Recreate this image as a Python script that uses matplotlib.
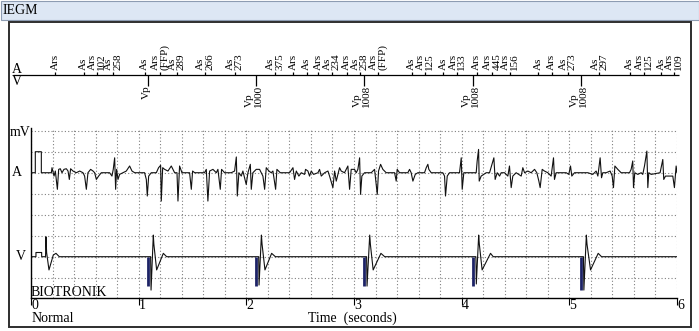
import matplotlib.pyplot as plt
from matplotlib.patches import Rectangle
import numpy as np

plt.rcParams['font.family'] = ['Liberation Serif', 'DejaVu Serif']

# atrial EGM, time in ms, amplitude in mV (1 grid division = 1 mV)
a_time_ms = [0, 40, 40, 96, 96, 189, 195, 214, 226, 245, 257, 272, 288, 306, 328, 344, 356, 368, 390, 421,
             452, 483, 498, 514, 529, 554, 576, 591, 607, 628, 653, 730, 752, 764, 777, 786, 795, 808, 823, 854,
             885, 916, 938, 963, 1055, 1071, 1080, 1093, 1117, 1164, 1185, 1204, 1210, 1223, 1241, 1272, 1303,
             1334, 1356, 1365, 1380, 1402, 1473, 1489, 1501, 1520, 1612, 1628, 1643, 1659, 1690, 1721, 1736,
             1758, 1770, 1798, 1860, 1891, 1907, 1916, 1931, 1953, 1968, 1999, 2015, 2037, 2046, 2061, 2092,
             2123, 2154, 2170, 2185, 2210, 2231, 2247, 2272, 2284, 2315, 2402, 2433, 2448, 2464, 2488, 2510,
             2541, 2550, 2572, 2587, 2603, 2625, 2665, 2680, 2696, 2727, 2758, 2773, 2804, 2820, 2835, 2866,
             2881, 2912, 2943, 2959, 2974, 3005, 3021, 3036, 3052, 3061, 3073, 3098, 3160, 3191, 3216, 3228,
             3247, 3268, 3299, 3377, 3392, 3401, 3423, 3500, 3516, 3531, 3547, 3569, 3593, 3655, 3671, 3686,
             3695, 3717, 3825, 3841, 3850, 3866, 3887, 3980, 3996, 4005, 4020, 4135, 4144, 4157, 4163, 4181,
             4228, 4259, 4299, 4311, 4330, 4352, 4367, 4398, 4429, 4444, 4460, 4475, 4506, 4553, 4568, 4584,
             4615, 4645, 4677, 4698, 4717, 4729, 4748, 4769, 4800, 4831, 4853, 4862, 4878, 4971, 4995, 5011,
             5023, 5048, 5172, 5218, 5249, 5265, 5286, 5299, 5311, 5342, 5379, 5398, 5410, 5423, 5450, 5481,
             5559, 5574, 5589, 5596, 5608, 5636, 5667, 5682, 5698, 5720, 5729, 5738, 5760, 5843, 5868, 5877,
             5893, 5961, 5976, 5992, 6000]
a_mv = [0, 0, 1.0, 1.0, 0, 0, 0.24, -0.16, 0.08, -0.79, 0.16, 0.19, 0, 0.16, 0.19, 0.08, -0.32, 0.19, 0.08, 0,
        0.08, 0, -0.16, -0.79, 0, 0.16, 0.08, 0, -0.32, -0.16, 0, 0, -0.16, 0.16, 0.71, -0.79, 0.16, -0.32, -0.08, 0,
        0.08, 0.32, 0.08, 0, 0, -0.32, -1.11, -0.16, 0, 0, 0.24, 0.35, -1.35, 0.24, 0.16, 0.08, 0.32,
        0, 0, -1.35, 0.32, 0, 0, -0.79, 0.08, 0, 0, 0.16, -1.35, 0.08, 0.16, 0, 0.16,
        -0.79, 0.16, 0, 0, 0.08, 0.75, -1.11, 0, -0.16, 0.08, -0.56, 0, 0.40, -0.79, 0, 0.16,
        0.16, -0.16, -0.79, 0.24, 0.08, 0, 0.08, -0.79, 0.16, 0, 0, 0.24, -0.32, 0.08, -0.16, 0,
        -0.08, 0.16, 0.08, -0.16, 0.08, -0.08, 0, 0.16, -0.16, 0, 0.08, -0.16, -0.71, 0.08, -0.40, 0.24,
        0.08, 0, 0.32, -0.79, 0.16, 0.16, 0, 0.16, 0.71, -1.03, -0.16, 0, 0, 0.16, -1.03, 0.08,
        0.40, 0.16, 0, 0, -0.40, 0.16, 0, 0, 0.16, 0, -0.40, -0.08, 0, 0, 0.24, 0.40,
        0.16, 0, 0, -0.16, -1.11, -0.16, 0, 0, 0.71, -0.79, 0, 0, 0.56, 1.11, -0.40, -0.16,
        0, 0, 0.71, -0.32, 0, -0.16, 0, 0, -0.16, 0.32, -0.71, -0.16, 0, -0.16, 0.24, 0,
        0.08, 0, 0.16, 0, -0.40, -0.71, 0.16, 0.08, 0, -0.16, 0.71, -0.32, 0, 0, -0.08, 0.32,
        -0.16, 0, 0, -0.08, 0.08, -0.16, 0.71, -0.24, 0, 0, 0.08, -0.16, -0.71, 0.32, 0.16, 0,
        0, 0.16, 0.56, -0.71, 0, -0.08, 0, -0.08, 0.32, 1.03, -0.71, 0, -0.08, 0, 0.63, -0.32,
        -0.16, -0.16, -0.71, 0.32, 0]

# ventricular EGM, time in s
v_time = [0.0, 0.046, 0.046, 0.099, 0.099, 0.135, 0.139, 0.145, 0.167, 0.207, 0.232, 0.263,
          1.111, 1.115, 1.136, 1.141, 1.167, 1.229, 1.260,
          2.115, 2.118, 2.140, 2.146, 2.173, 2.235, 2.270,
          3.117, 3.121, 3.146, 3.152, 3.178, 3.250, 3.285,
          4.132, 4.136, 4.158, 4.164, 4.190, 4.268, 4.293,
          5.131, 5.135, 5.158, 5.164, 5.197, 5.268, 5.299, 6.0]
v_mv = [0, 0, 0.2, 0.2, 0, 0, 0.95, 0.2, -0.63, 0.08, 0.16, 0,
        0, -1.59, 1.03, 0.6, -0.63, 0.16, 0,
        0, -1.35, 1.03, 0.6, -0.63, 0.16, 0,
        0, -1.40, 1.03, 0.6, -0.63, 0.16, 0,
        0, -1.30, 1.03, 0.6, -0.63, 0.16, 0,
        0, -1.59, 1.03, 0.6, -0.63, 0.16, 0, 0]

pace_time = [1.089, 2.089, 3.097, 4.105, 5.113]
pace_depth = [-1.40, -1.40, -1.40, -1.40, -1.59]

# marker channel
a_marker_time = [0.223, 0.490, 0.610, 0.764, 1.055, 1.198, 1.353, 1.619, 1.892, 2.267, 2.435, 2.560,
                 2.668, 2.794, 2.931, 3.052, 3.225, 3.535, 3.660, 3.828, 3.961, 4.138, 4.285, 4.448,
                 4.710, 4.835, 4.983, 5.280, 5.562, 5.690, 5.856, 5.970]
a_marker_label = ['Ars', 'As', 'Ars\n102', 'As\n258', 'As', 'Ars\n(FFP)', 'As\n289', 'As\n266', 'As\n273',
                  'As\n375', 'Ars', 'As', 'Ars', 'As\n234', 'Ars', 'As\n258', 'Ars\n(FFP)', 'As', 'Ars\n125',
                  'As', 'Ars\n133', 'Ars', 'Ars\n445', 'Ars\n156', 'As', 'Ars', 'As\n273', 'As\n297', 'As',
                  'Ars\n125', 'As', 'Ars\n109']
v_marker_time = [1.089, 2.089, 3.097, 4.105, 5.113]
v_marker_label = ['Vp', 'Vp\n1000', 'Vp\n1008', 'Vp\n1008', 'Vp\n1008']

sec_ticks = [0, 1, 2, 3, 4, 5, 6]

W, H = 699, 331
fig = plt.figure(figsize=(W / 100, H / 100), dpi=100)


def box(x0, y0, x1, y1):
    return [x0 / W, 1 - y1 / H, (x1 - x0) / W, (y1 - y0) / H]


# background / frames in pixel coords
bg = fig.add_axes([0, 0, 1, 1])
bg.set_xlim(0, W)
bg.set_ylim(H, 0)
bg.axis('off')
bg.add_patch(Rectangle((0.5, 0.5), W - 1, 19, fc='#dde7f4', ec='#8d9cb2', lw=0.8))
bg.text(3, 10.5, 'IEGM', fontsize=10, va='center')
bg.add_patch(Rectangle((8.5, 21.5), 682, 305, fc='none', ec='#2e2e2e', lw=1.4))
bg.text(17, 69.5, 'A', fontsize=10, ha='center', va='center')
bg.text(17, 81.5, 'V', fontsize=10, ha='center', va='center')
bg.text(30, 133, 'mV', fontsize=10, ha='right', va='center')
bg.text(22, 172, 'A', fontsize=10, ha='right', va='center')
bg.text(26, 256, 'V', fontsize=10, ha='right', va='center')
bg.text(31, 292, 'BIOTRONIK', fontsize=10, va='center')
bg.text(32, 318, 'Normal', fontsize=10, va='center')
bg.text(352, 318, 'Time  (seconds)', fontsize=10, ha='center', va='center')

# strip area: V channel owns the grid, A channel sits 4 divisions higher
ax_v = fig.add_axes(box(31, 128, 677, 298))
ax_v.set_xlim(0, 6)
ax_v.set_ylim(-1.967, 6.13)
ax_v.patch.set_visible(False)
for s in ['top', 'right']:
    ax_v.spines[s].set_visible(False)
for s in ['left', 'bottom']:
    ax_v.spines[s].set_linewidth(1.0)
ax_v.set_yticks(range(-1, 7))
ax_v.tick_params(axis='y', left=False, labelleft=False)
ax_v.set_xticks(np.arange(0, 6.01, 0.2), minor=True)
ax_v.set_xticks(sec_ticks)
ax_v.set_xticklabels([str(t) for t in sec_ticks])
ax_v.tick_params(axis='x', which='major', direction='out', length=5, width=0.8, pad=-4, labelsize=10)
ax_v.tick_params(axis='x', which='minor', length=0)
for lbl in ax_v.get_xticklabels():
    lbl.set_horizontalalignment('left')
ax_v.grid(True, which='both', ls=(0, (1, 2)), color='#808080', lw=0.8)
ax_v.set_axisbelow(True)
ax_v.plot(v_time, v_mv, color='#111111', lw=0.8)
ax_v.vlines(pace_time, 0, pace_depth, colors='#1d2366', lw=2)

ax_a = fig.add_axes(box(31, 128, 677, 298), sharex=ax_v)
ax_a.set_ylim(-5.967, 2.13)
ax_a.axis('off')
ax_a.plot(np.array(a_time_ms) / 1000, a_mv, color='#111111', lw=0.8)

# marker channel (rows in pixels)
ax_m = fig.add_axes(box(31, 22, 677, 122), sharex=ax_v)
ax_m.set_ylim(122, 22)
ax_m.axis('off')
ax_m.hlines(75, -0.167, 6.017, color='black', lw=0.9, clip_on=False)
ax_m.vlines(a_marker_time, 72, 75, color='black', lw=0.9)
ax_m.vlines(v_marker_time, 75, 86, color='black', lw=0.9)
for t, s in zip(a_marker_time, a_marker_label):
    ax_m.text(t, 70, s, rotation=90, ha='center', va='bottom', fontsize=8,
              linespacing=1.0, multialignment='left')
for t, s in zip(v_marker_time, v_marker_label):
    ax_m.text(t - 0.02, 85, s, rotation=90, ha='center', va='top', fontsize=8,
              linespacing=1.0, multialignment='left')

fig.savefig('out.png', dpi=100)
